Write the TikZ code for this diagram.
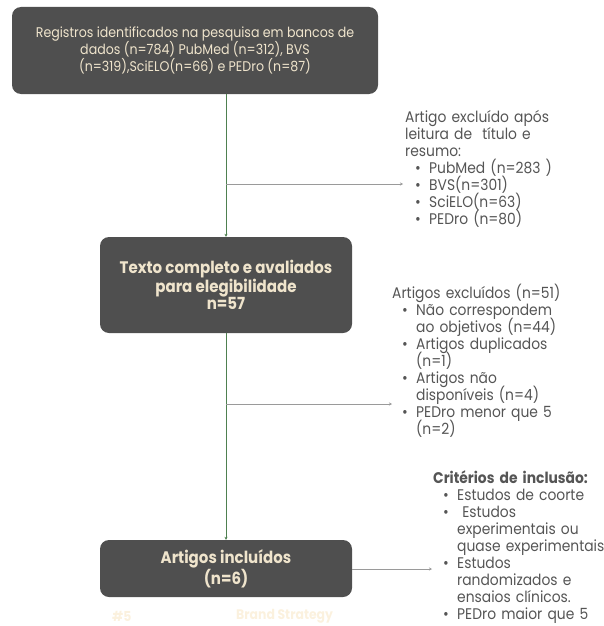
\documentclass[tikz,border=0pt]{standalone}
\usepackage{fontspec}
\setmainfont{Poppins}[FakeStretch=0.9]
\usetikzlibrary{arrows.meta}
\definecolor{boxfill}{HTML}{4F4F4F}
\definecolor{boxtext}{HTML}{EFE4CC}
\definecolor{sidetext}{HTML}{555555}
\definecolor{vline}{HTML}{4E8050}
\definecolor{hline}{HTML}{9A9A9A}
\definecolor{faint}{HTML}{FBF1DE}
\newcommand{\bitem}[1]{\makebox[14pt][l]{\textbullet}#1}
\newcommand{\bcont}[1]{\hspace*{14pt}#1}
\newcommand{\tightlines}{\lineskiplimit=-20pt\relax}
\begin{document}
\begin{tikzpicture}[x=1pt,y=-1pt,
  flowbox/.style={draw=none,fill=boxfill,rounded corners=9pt,text=boxtext,align=center,inner sep=0pt,font=\fontsize{14}{17}\selectfont},
  boldbox/.style={flowbox,font=\fontsize{16.7}{17}\selectfont\bfseries},
  sidebox/.style={anchor=north west,align=left,text width=200pt,inner sep=0pt,text=sidetext,font=\fontsize{15.4}{17}\selectfont\tightlines},
  faintlabel/.style={text=faint,font=\fontsize{13.8}{15}\selectfont\bfseries,anchor=west,inner sep=0pt},
  vconn/.style={draw=vline,line width=0.8pt,-{Stealth[length=3pt,width=3pt]}},
  hconn/.style={draw=hline,line width=1pt,-{Stealth[length=3pt,width=3pt]}}]
\useasboundingbox (0,0) rectangle (604,626);
\node[flowbox,minimum width=366pt,minimum height=87pt] (b1) at (195,50.5)
 {Registros identificados na pesquisa em bancos de\\dados (n=784) PubMed (n=312), BVS\\(n=319),SciELO(n=66) e PEDro (n=87)};
\node[boldbox,minimum width=252pt,minimum height=96pt] (b2) at (226,285)
 {Texto completo e avaliados\\para elegibilidade\\n=57};
\node[boldbox,minimum width=252pt,minimum height=57pt] (b3) at (226,568.5)
 {Artigos incluídos\\(n=6)};
\node[sidebox] (t1) at (405,110)
 {Artigo excluído após\\leitura de \ título e\\resumo:\\
 \hspace*{10pt}\bitem{PubMed (n=283 )}\\
 \hspace*{10pt}\bitem{BVS(n=301)}\\
 \hspace*{10pt}\bitem{SciELO(n=63)}\\
 \hspace*{10pt}\bitem{PEDro (n=80)}};
\node[sidebox] (t2) at (392,284)
 {Artigos excluídos (n=51)\\
 \hspace*{10pt}\bitem{Não correspondem}\\
 \hspace*{10pt}\bcont{ao objetivos (n=44)}\\
 \hspace*{10pt}\bitem{Artigos duplicados}\\
 \hspace*{10pt}\bcont{(n=1)}\\
 \hspace*{10pt}\bitem{Artigos não}\\
 \hspace*{10pt}\bcont{disponíveis (n=4)}\\
 \hspace*{10pt}\bitem{PEDro menor que 5}\\
 \hspace*{10pt}\bcont{(n=2)}};
\node[sidebox] (t3) at (433,470)
 {{\bfseries Critérios de inclusão:}\\
 \hspace*{10pt}\bitem{Estudos de coorte}\\
 \hspace*{10pt}\bitem{\ Estudos}\\
 \hspace*{10pt}\bcont{experimentais ou}\\
 \hspace*{10pt}\bcont{quase experimentais}\\
 \hspace*{10pt}\bitem{Estudos}\\
 \hspace*{10pt}\bcont{randomizados e}\\
 \hspace*{10pt}\bcont{ensaios clínicos.}\\
 \hspace*{10pt}\bitem{PEDro maior que 5}};
\node[faintlabel] (h5) at (112,616) {\#5};
\node[faintlabel] (bs) at (236,616) {Brand Strategy};
\coordinate (j1) at (b1.south -| b2.north);
\coordinate (e1) at (403,184);
\coordinate (k2) at (b2.north |- 0,404);
\coordinate (e2) at (392,404);
\coordinate (e3) at (432,569);
\draw[vconn] (j1) -- (b2.north);
\draw[vconn] (b2.south) -- (b3.north);
\draw[hconn] (e1 -| b2.north) -- (e1);
\draw[hconn] (k2) -- (e2);
\draw[hconn] (b3.east |- e3) -- (e3);
\end{tikzpicture}
\end{document}
